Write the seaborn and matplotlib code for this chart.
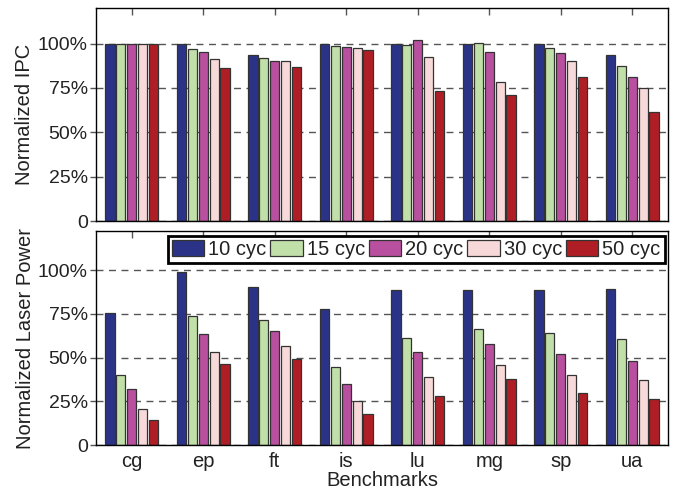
import pandas as pd
import numpy as np
import matplotlib
matplotlib.use('Agg')
import matplotlib.pyplot as plt
import seaborn as sns

sns.set_style('white')
plt.rcParams['font.family'] = ['Liberation Sans', 'DejaVu Sans']

benchmarks = ['cg', 'ep', 'ft', 'is', 'lu', 'mg', 'sp', 'ua']
configs = ['10 cyc', '15 cyc', '20 cyc', '30 cyc', '50 cyc']
colors = ['#2B3388', '#C1DFA8', '#B94F9F', '#F8D9D9', '#B01E25']

# normalized IPC, one list per latency config
ipc_10 = [1.00, 1.00, 0.933, 0.996, 0.998, 0.998, 0.998, 0.936]
ipc_15 = [1.00, 0.970, 0.919, 0.985, 0.989, 1.002, 0.976, 0.875]
ipc_20 = [1.00, 0.955, 0.904, 0.979, 1.021, 0.953, 0.944, 0.811]
ipc_30 = [1.00, 0.912, 0.899, 0.976, 0.923, 0.785, 0.904, 0.749]
ipc_50 = [1.00, 0.861, 0.865, 0.966, 0.730, 0.710, 0.811, 0.612]

# normalized laser power
pow_10 = [0.755, 0.989, 0.907, 0.779, 0.888, 0.888, 0.888, 0.894]
pow_15 = [0.403, 0.736, 0.713, 0.447, 0.612, 0.665, 0.643, 0.606]
pow_20 = [0.321, 0.635, 0.650, 0.352, 0.530, 0.580, 0.523, 0.479]
pow_30 = [0.205, 0.532, 0.568, 0.251, 0.392, 0.460, 0.403, 0.371]
pow_50 = [0.141, 0.462, 0.492, 0.179, 0.279, 0.376, 0.297, 0.262]


def long_table(series):
    rows = []
    for cfg, vals in zip(configs, series):
        for b, v in zip(benchmarks, vals):
            rows.append({'bench': b, 'cfg': cfg, 'val': v})
    return pd.DataFrame(rows)


ipc = long_table([ipc_10, ipc_15, ipc_20, ipc_30, ipc_50])
power = long_table([pow_10, pow_15, pow_20, pow_30, pow_50])

fig = plt.figure(figsize=(6.79, 4.92), dpi=100)
ax1 = fig.add_axes([0.1414, 0.5508, 0.8424, 0.4329])
ax2 = fig.add_axes([0.1414, 0.0955, 0.8424, 0.4350])

for ax, df, top in [(ax1, ipc, 1.2), (ax2, power, 1.225)]:
    sns.barplot(data=df, x='bench', y='val', hue='cfg', palette=colors,
                saturation=1, width=0.76, gap=0.16, edgecolor='#333333',
                linewidth=0.9, ax=ax, legend=(ax is ax2))
    ax.set_xlim(-0.5, 7.5)
    ax.set_ylim(0, top)
    ax.set_yticks([0, 0.25, 0.5, 0.75, 1.0])
    ax.set_yticklabels(['0', '25%', '50%', '75%', '100%'], fontsize=14, color='#222222')
    ax.set_axisbelow(True)
    ax.yaxis.grid(True, linestyle=(0, (5, 4)), color='#555555', linewidth=1)
    ax.xaxis.grid(False)
    for s in ax.spines.values():
        s.set_visible(True)
        s.set_color('black')
        s.set_linewidth(1)
    ax.tick_params(axis='x', direction='in', top=True, bottom=False, length=5, width=1, color='#555555')
    ax.tick_params(axis='y', direction='out', left=True, length=4, width=1, color='#555555', pad=2)

ax1.set_xticklabels([])
ax1.set_xlabel('')
ax1.set_ylabel('Normalized IPC', fontsize=14.5, color='#222222', labelpad=3)

ax2.set_xticklabels(benchmarks, fontsize=14.5, color='#222222')
ax2.tick_params(axis='x', pad=5)
ax2.set_xlabel('Benchmarks', fontsize=14.5, color='#222222', labelpad=0)
ax2.set_ylabel('Normalized Laser Power', fontsize=14.5, color='#222222', labelpad=2)

leg = ax2.legend(loc='upper right', bbox_to_anchor=(0.994, 0.976), ncol=5,
                 fontsize=14.5, frameon=True, fancybox=False,
                 handlelength=1.6, handleheight=0.85, handletextpad=0.2,
                 columnspacing=0.2, borderpad=0.2, borderaxespad=0)
leg.get_frame().set_edgecolor('black')
leg.get_frame().set_linewidth(2)
leg.get_frame().set_alpha(1)
for t in leg.get_texts():
    t.set_color('#222222')

fig.savefig('out.png', dpi=100)
